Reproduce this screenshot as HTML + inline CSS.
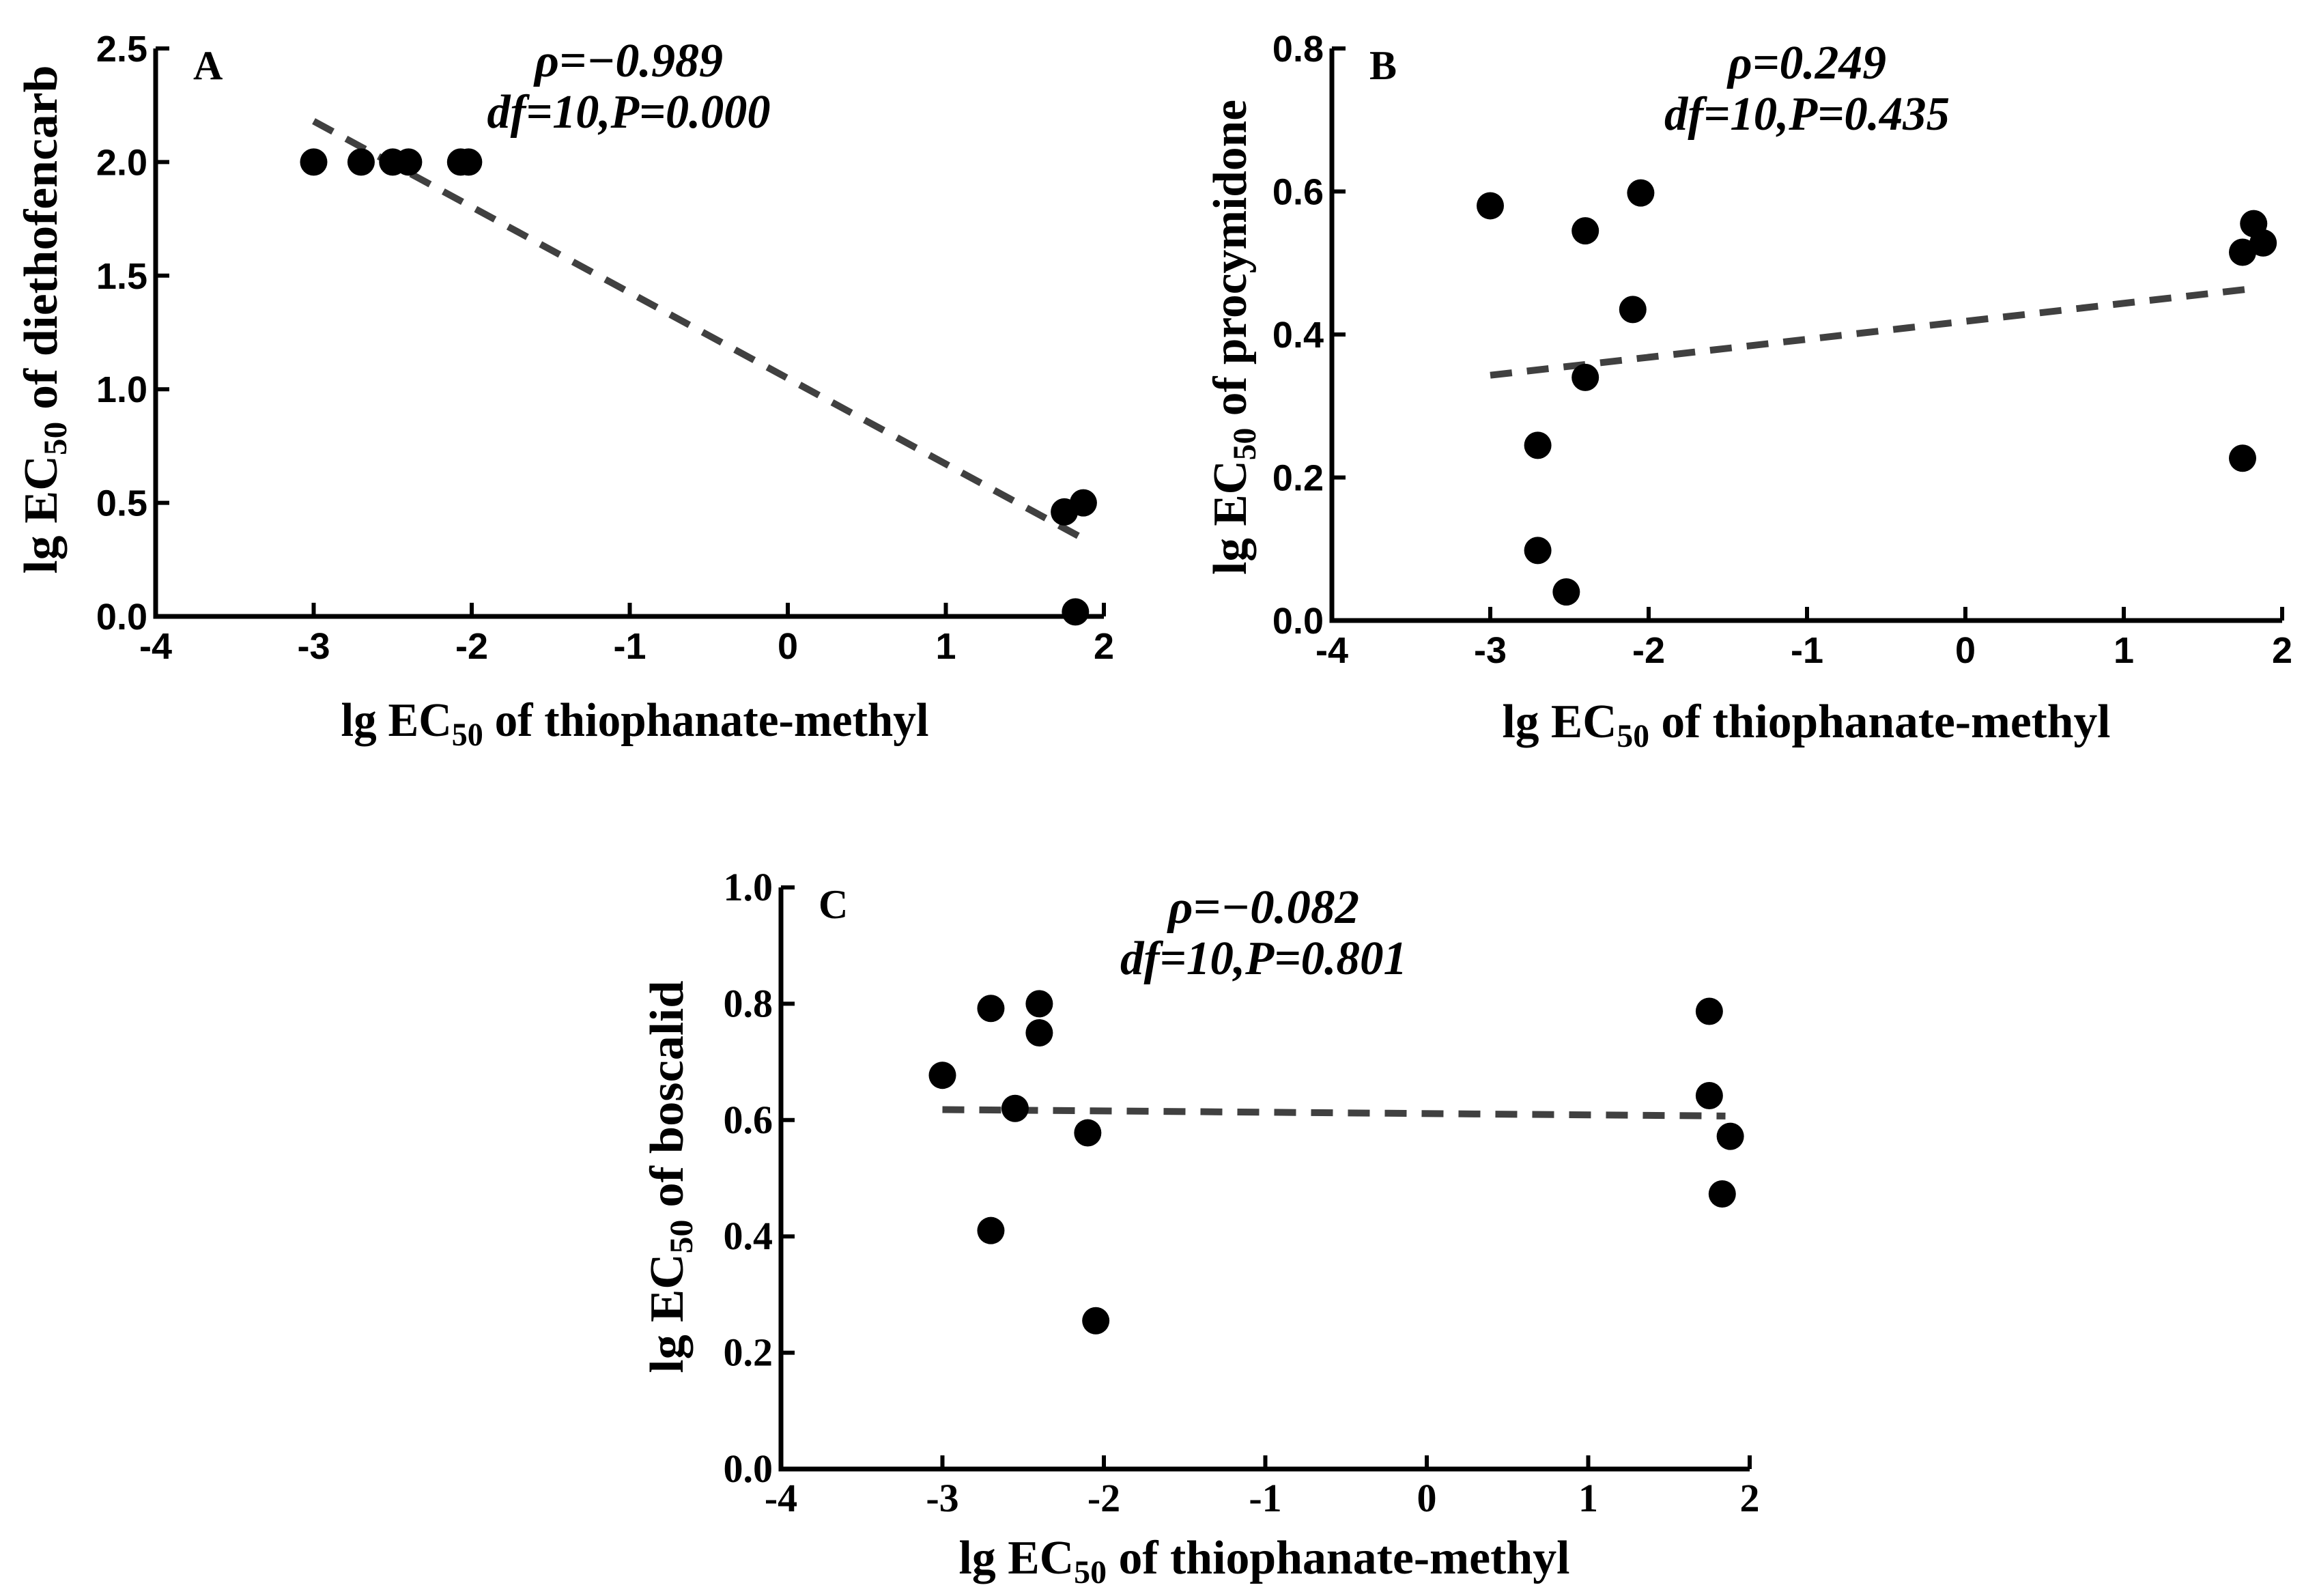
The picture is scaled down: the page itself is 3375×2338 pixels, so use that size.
<!DOCTYPE html>
<html><head><meta charset="utf-8"><style>
html,body{margin:0;padding:0;background:#fff}
svg{display:block}
.tick{font-family:"Liberation Sans",sans-serif;font-weight:bold;font-size:54px;fill:#000}
.tickc{font-family:"Liberation Serif",serif;font-weight:bold;font-size:58px;fill:#000}
.title{font-family:"Liberation Serif",serif;font-weight:bold;font-size:70px;fill:#000}
.stat{font-family:"Liberation Serif",serif;font-weight:bold;font-style:italic;font-size:70px;fill:#000}
.letter{font-family:"Liberation Serif",serif;font-weight:bold;font-size:60px;fill:#000}
</style></head><body>
<svg id="fig" width="3375" height="2338" viewBox="0 0 3375 2338" xmlns="http://www.w3.org/2000/svg"></svg>
<script>
// Panel A data
const aX = [-3.0, -2.7, -2.5, -2.4, -2.07, -2.02, 1.75, 1.87, 1.82];
const aY = [2.0, 2.0, 2.0, 2.0, 2.0, 2.0, 0.46, 0.5, 0.02];
const aFit = [[-3.0, 2.18], [1.85, 0.35]];
const aYTicks = [0, 0.5, 1.0, 1.5, 2.0, 2.5];
const aYLabels = ["0.0", "0.5", "1.0", "1.5", "2.0", "2.5"];
// Panel B data
const bX = [-3.0, -2.4, -2.05, -2.1, -2.4, -2.7, -2.7, -2.52, 1.75, 1.82, 1.88, 1.75];
const bY = [0.58, 0.545, 0.598, 0.435, 0.34, 0.245, 0.098, 0.04, 0.515, 0.555, 0.528, 0.227];
const bFit = [[-3.0, 0.343], [1.85, 0.465]];
const bYTicks = [0, 0.2, 0.4, 0.6, 0.8];
const bYLabels = ["0.0", "0.2", "0.4", "0.6", "0.8"];
// Panel C data
const cX = [-3.0, -2.7, -2.4, -2.4, -2.55, -2.1, -2.7, -2.05, 1.75, 1.75, 1.88, 1.83];
const cY = [0.677, 0.792, 0.8, 0.75, 0.62, 0.578, 0.41, 0.255, 0.787, 0.642, 0.572, 0.473];
const cFit = [[-3.0, 0.618], [1.85, 0.607]];
const cYTicks = [0, 0.2, 0.4, 0.6, 0.8, 1.0];
const cYLabels = ["0.0", "0.2", "0.4", "0.6", "0.8", "1.0"];
const xTicks = [-4, -3, -2, -1, 0, 1, 2];
const xLabels = ["-4", "-3", "-2", "-1", "0", "1", "2"];

const NS = "http://www.w3.org/2000/svg";
const svg = document.getElementById('fig');
function mk(tag, attrs, parent) {
  const e = document.createElementNS(NS, tag);
  for (const k in attrs) e.setAttribute(k, attrs[k]);
  parent.appendChild(e);
  return e;
}

function panel(p) {
  const g = mk('g', {}, svg);
  
  
  const sx = v => p.x0 + (v - (-4)) * p.ux;
  const sy = v => p.y0 - v * p.uy;
  const right = sx(2), top = sy(p.ymax);
  const ax = mk('path', {d: `M${p.x0},${top} L${p.x0},${p.y0} L${right},${p.y0}`, fill: 'none', stroke: '#000', 'stroke-width': 7, 'stroke-linejoin': 'miter'}, g);
  
  
  xTicks.forEach((t, i) => {
    const x = sx(t);
    if (i > 0) {
      const tk = mk('line', {x1: x, y1: p.y0, x2: x, y2: p.y0 - 20, stroke: '#000', 'stroke-width': 6}, g);
      
      
    }
    const tl = mk('text', {x: x, y: p.y0 + 62, 'text-anchor': 'middle', class: p.tickClass}, g);
    tl.textContent = xLabels[i];
    
    
  });
  p.yTicks.forEach((t, i) => {
    const y = sy(t);
    if (i > 0) {
      const tk = mk('line', {x1: p.x0, y1: y, x2: p.x0 + 20, y2: y, stroke: '#000', 'stroke-width': 6}, g);
      
      
    }
    const tl = mk('text', {x: p.x0 - 12, y: y + 19, 'text-anchor': 'end', class: p.tickClass}, g);
    tl.textContent = p.yLabels[i];
    
    
  });
  const fl = mk('line', {x1: sx(p.fit[0][0]), y1: sy(p.fit[0][1]), x2: sx(p.fit[1][0]), y2: sy(p.fit[1][1]), stroke: '#404040', 'stroke-width': 10, 'stroke-dasharray': '32 22'}, g);
  
  
  p.xs.forEach((v, i) => {
    const c = mk('circle', {cx: sx(v), cy: sy(p.ys[i]), r: 20, fill: '#000'}, g);
    
    
  });
  const L = mk('text', {x: p.x0 + 55, y: top + 45, class: 'letter'}, g);
  L.textContent = p.id;
  
  
  const s1 = mk('text', {x: p.sx, y: p.sy1, 'text-anchor': 'middle', class: 'stat', textLength: p.s1w, lengthAdjust: 'spacingAndGlyphs'}, g);
  s1.textContent = p.s1;
  
  
  const s2 = mk('text', {x: p.sx, y: p.sy1 + 75, 'text-anchor': 'middle', class: 'stat', textLength: p.s2w, lengthAdjust: 'spacingAndGlyphs'}, g);
  s2.textContent = p.s2;
  
  
  const xt = mk('text', {x: p.xtx, y: p.xty, 'text-anchor': 'middle', class: 'title', textLength: p.xtw, lengthAdjust: 'spacingAndGlyphs'}, g);
  xt.innerHTML = 'lg EC<tspan font-size="48" dy="14">50</tspan><tspan dy="-14"> of thiophanate-methyl</tspan>';
  
  
  const yt = mk('text', {x: 0, y: 0, 'text-anchor': 'middle', class: 'title', textLength: p.ytw, lengthAdjust: 'spacingAndGlyphs', transform: `translate(${p.ytx},${p.yty}) rotate(-90)`}, g);
  yt.innerHTML = 'lg EC<tspan font-size="48" dy="14">50</tspan><tspan dy="-14"> of ' + p.yname + '</tspan>';
  
  
}

panel({id: 'A', x0: 228, ux: 231.5, y0: 903, uy: 332.8, ymax: 2.5, xs: aX, ys: aY, fit: aFit, yTicks: aYTicks, yLabels: aYLabels, tickClass: 'tick',
  s1: 'ρ=−0.989', s2: 'df=10,P=0.000', sx: 921, sy1: 112, s1w: 276, s2w: 415,
  xtx: 930, xty: 1078, xtw: 861, ytx: 83, yty: 468, ytw: 745, yname: 'diethofencarb'});
panel({id: 'B', x0: 1951, ux: 232, y0: 909, uy: 1047.5, ymax: 0.8, xs: bX, ys: bY, fit: bFit, yTicks: bYTicks, yLabels: bYLabels, tickClass: 'tick',
  s1: 'ρ=0.249', s2: 'df=10,P=0.435', sx: 2647, sy1: 115, s1w: 232, s2w: 418,
  xtx: 2646, xty: 1080, xtw: 891, ytx: 1825, yty: 494, ytw: 696, yname: 'procymidone'});
panel({id: 'C', x0: 1144, ux: 236.5, y0: 2152, uy: 852, ymax: 1.0, xs: cX, ys: cY, fit: cFit, yTicks: cYTicks, yLabels: cYLabels, tickClass: 'tickc',
  s1: 'ρ=−0.082', s2: 'df=10,P=0.801', sx: 1851, sy1: 1352, s1w: 280, s2w: 420,
  xtx: 1852, xty: 2305, xtw: 895, ytx: 1000, yty: 1724, ytw: 575, yname: 'boscalid'});
</script>
</body></html>
